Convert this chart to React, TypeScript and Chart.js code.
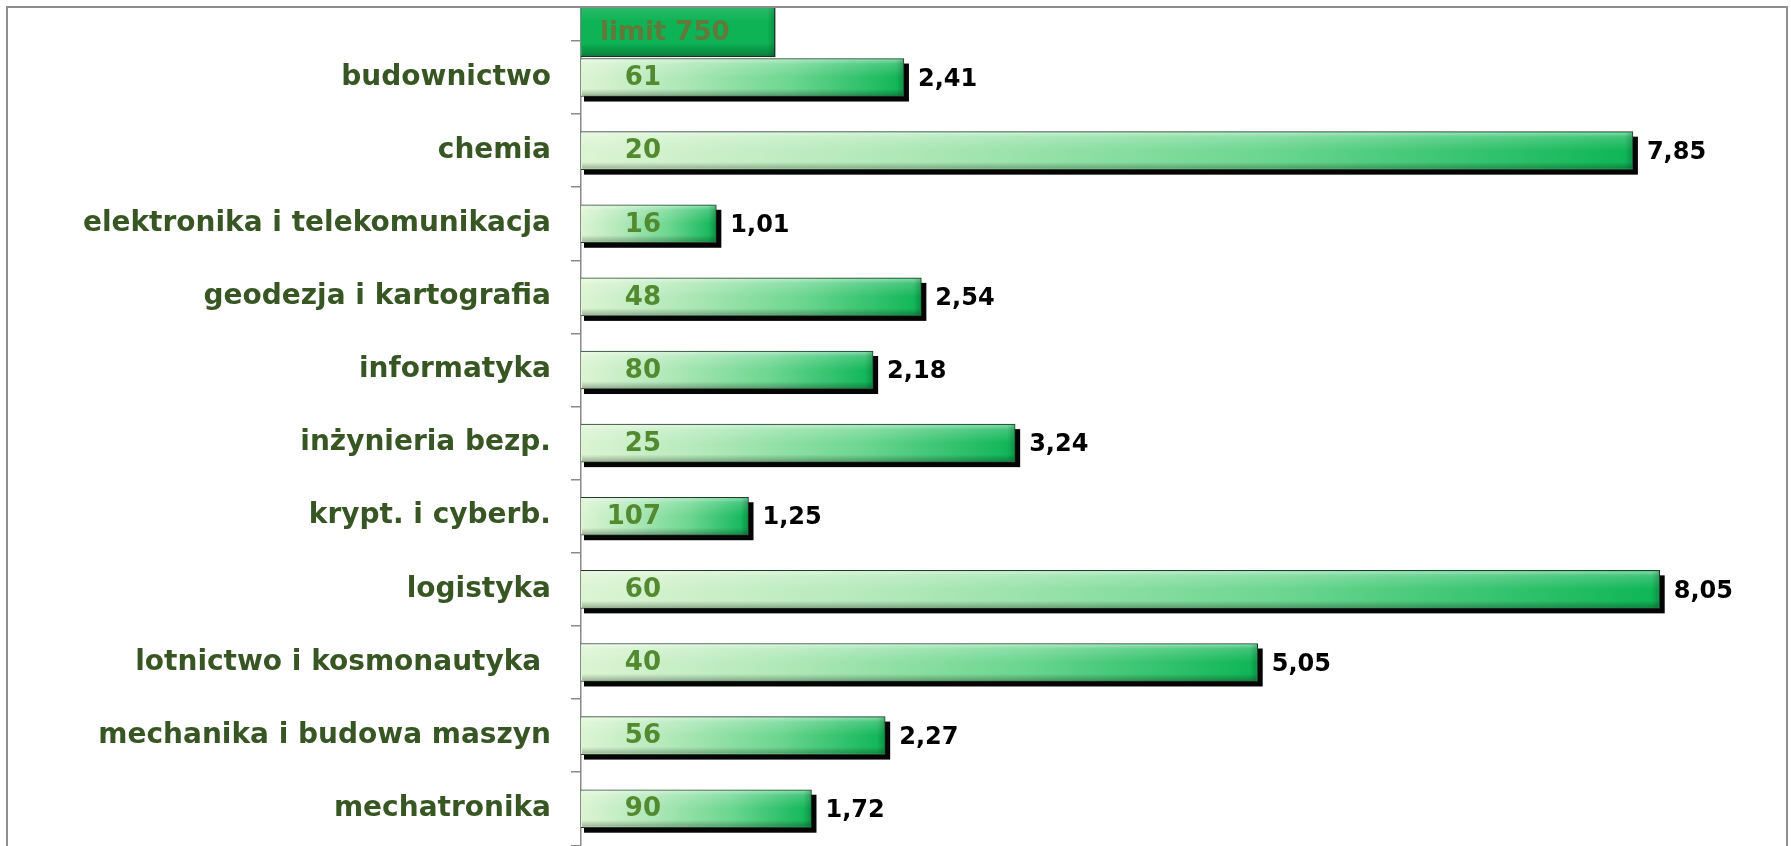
import React, { useEffect, useRef } from 'react';
import { Chart, registerables } from 'chart.js';

Chart.register(...registerables);

const categories = [
  'budownictwo',
  'chemia',
  'elektronika i telekomunikacja',
  'geodezja i kartografia',
  'informatyka',
  'inżynieria bezp.',
  'krypt. i cyberb.',
  'logistyka',
  'lotnictwo i kosmonautyka ',
  'mechanika i budowa maszyn',
  'mechatronika',
];
const ratios = [2.41, 7.85, 1.01, 2.54, 2.18, 3.24, 1.25, 8.05, 5.05, 2.27, 1.72];
const counts = [61, 20, 16, 48, 80, 25, 107, 60, 40, 56, 90];
const limitLabel = 'limit 750';
const limitValue = 1.45;
const limitPosition = -0.76;
const xMin = 0;
const xMax = 9;
const yMin = -0.951;
const yMax = 10.51;

const categoryBoundaries = categories.map((_, i) => i - 0.5).concat([categories.length - 0.5]);

const fmt = (v: number) => v.toFixed(2).replace('.', ',');

export default function App() {
  const ref = useRef<HTMLCanvasElement>(null);

  useEffect(() => {
    const canvas = ref.current;
    if (!canvas) return;

    const barGradient = (ctx: any) => {
      const chart = ctx.chart;
      if (ctx.type !== 'data' || !chart.chartArea) return '#7fdc9c';
      const xs = chart.scales.x;
      const x0 = xs.getPixelForValue(0);
      const x1 = xs.getPixelForValue(ctx.raw.x);
      const g = chart.ctx.createLinearGradient(x0, 0, x1, 0);
      g.addColorStop(0, '#dcf4d2');
      g.addColorStop(0.3, '#b0e8b8');
      g.addColorStop(0.65, '#6cd690');
      g.addColorStop(1, '#0db556');
      return g;
    };

    const barBox = (el: any) => {
      const p = el.getProps(['x', 'y', 'base', 'height'], true);
      const left = Math.min(p.x, p.base);
      const width = Math.abs(p.x - p.base);
      return { left, width, top: p.y - p.height / 2, height: p.height, y: p.y, end: Math.max(p.x, p.base), base: p.base };
    };

    const clipArea = (ctx: any, a: any) => {
      ctx.beginPath();
      ctx.rect(a.left, a.top, a.right - a.left, a.bottom - a.top);
      ctx.clip();
    };

    const effectsPlugin = {
      id: 'effects',
      beforeDatasetDraw(chart: any, args: any) {
        if (args.index !== 0) return;
        const { ctx, chartArea } = chart;
        ctx.save();
        clipArea(ctx, chartArea);
        ctx.fillStyle = '#050505';
        args.meta.data.forEach((el: any) => {
          const b = barBox(el);
          ctx.fillRect(b.left + 3, b.top + 5, b.width + 2, b.height);
        });
        ctx.restore();
      },
      afterDatasetDraw(chart: any, args: any) {
        const { ctx, chartArea } = chart;
        ctx.save();
        clipArea(ctx, chartArea);
        args.meta.data.forEach((el: any) => {
          const b = barBox(el);
          const g = ctx.createLinearGradient(0, b.top, 0, b.top + b.height);
          g.addColorStop(0, 'rgba(255,255,255,0.55)');
          g.addColorStop(0.14, 'rgba(255,255,255,0.2)');
          g.addColorStop(0.5, 'rgba(255,255,255,0)');
          g.addColorStop(0.8, 'rgba(0,0,0,0)');
          g.addColorStop(1, 'rgba(0,0,0,0.3)');
          ctx.fillStyle = g;
          ctx.fillRect(b.left + 1, b.top + 1, b.width - 2, b.height - 2);
          const gr = ctx.createLinearGradient(b.end - 8, 0, b.end, 0);
          gr.addColorStop(0, 'rgba(0,0,0,0)');
          gr.addColorStop(1, 'rgba(0,0,0,0.2)');
          ctx.fillStyle = gr;
          ctx.fillRect(b.end - 9, b.top + 1, 8, b.height - 2);
        });
        ctx.restore();
      },
    };

    const labelsPlugin = {
      id: 'barLabels',
      afterDatasetsDraw(chart: any) {
        const { ctx, chartArea } = chart;
        ctx.save();
        ctx.textBaseline = 'middle';
        const main = chart.getDatasetMeta(0);
        main.data.forEach((el: any, i: number) => {
          const b = barBox(el);
          ctx.font = 'bold 26px "DejaVu Sans"';
          ctx.fillStyle = '#538a30';
          ctx.textAlign = 'right';
          ctx.fillText(String(counts[i]), b.base + 80, b.y + 1);
          ctx.font = 'bold 24px "DejaVu Sans"';
          ctx.fillStyle = '#000000';
          ctx.textAlign = 'left';
          ctx.fillText(fmt(ratios[i]), b.end + 14, b.y + 2);
        });
        const lim = chart.getDatasetMeta(1);
        lim.data.forEach((el: any) => {
          const b = barBox(el);
          const top = Math.max(chartArea.top, b.top);
          const bottom = b.top + b.height;
          ctx.font = 'bold 26px "DejaVu Sans"';
          ctx.fillStyle = '#62793a';
          ctx.textAlign = 'left';
          ctx.fillText(limitLabel, b.base + 19, (top + bottom) / 2 + 1);
        });
        ctx.restore();
      },
    };

    const framePlugin = {
      id: 'frame',
      afterDraw(chart: any) {
        const { ctx } = chart;
        ctx.save();
        ctx.strokeStyle = '#8e8e8e';
        ctx.lineWidth = 2;
        ctx.strokeRect(7, 7, 1780, 900);
        ctx.restore();
      },
    };

    const chart = new Chart(canvas, {
      type: 'bar',
      data: {
        datasets: [
          {
            label: 'wskaźnik',
            data: ratios.map((v, i) => ({ x: v, y: i })),
            backgroundColor: barGradient,
            borderColor: '#243c2a',
            borderWidth: 1,
            barThickness: 38,
            grouped: false,
          } as any,
          {
            label: limitLabel,
            data: [{ x: limitValue, y: limitPosition }],
            backgroundColor: '#0db354',
            borderColor: '#1a3320',
            borderWidth: 1.5,
            barThickness: 70,
            grouped: false,
          } as any,
        ],
      },
      options: {
        indexAxis: 'y',
        animation: false,
        responsive: true,
        maintainAspectRatio: false,
        layout: { padding: { left: 7, top: 8, right: 4, bottom: 0 } },
        plugins: {
          legend: { display: false },
          tooltip: { enabled: false },
        },
        scales: {
          x: { type: 'linear', min: xMin, max: xMax, display: false, offset: false },
          y: {
            type: 'linear',
            reverse: true,
            offset: false,
            min: yMin,
            max: yMax,
            afterFit: (s: any) => {
              s.width = 574;
              s.paddingTop = 0;
              s.paddingBottom = 0;
            },
            afterBuildTicks: (s: any) => {
              s.ticks = categoryBoundaries.map((v) => ({ value: v }));
            },
            ticks: {
              autoSkip: false,
              labelOffset: 36.5,
              padding: 20,
              color: '#375623',
              font: { family: 'DejaVu Sans', size: 28, weight: 'bold' },
              callback: (v: any) => {
                const i = Math.round(Number(v) + 0.5);
                return i >= 0 && i < categories.length ? categories[i] : '';
              },
            },
            grid: {
              display: true,
              offset: false,
              drawOnChartArea: false,
              drawTicks: true,
              tickLength: 10,
              color: '#8a8a8a',
              lineWidth: 1.5,
            },
            border: { display: true, color: '#8a8a8a', width: 1.5 },
          },
        },
      } as any,
      plugins: [effectsPlugin, labelsPlugin, framePlugin],
    });
    return () => chart.destroy();
  }, []);

  return (
    <div style={{ position: 'absolute', left: 0, top: 0, width: 1791, height: 846, background: '#ffffff' }}>
      <canvas ref={ref} />
    </div>
  );
}
